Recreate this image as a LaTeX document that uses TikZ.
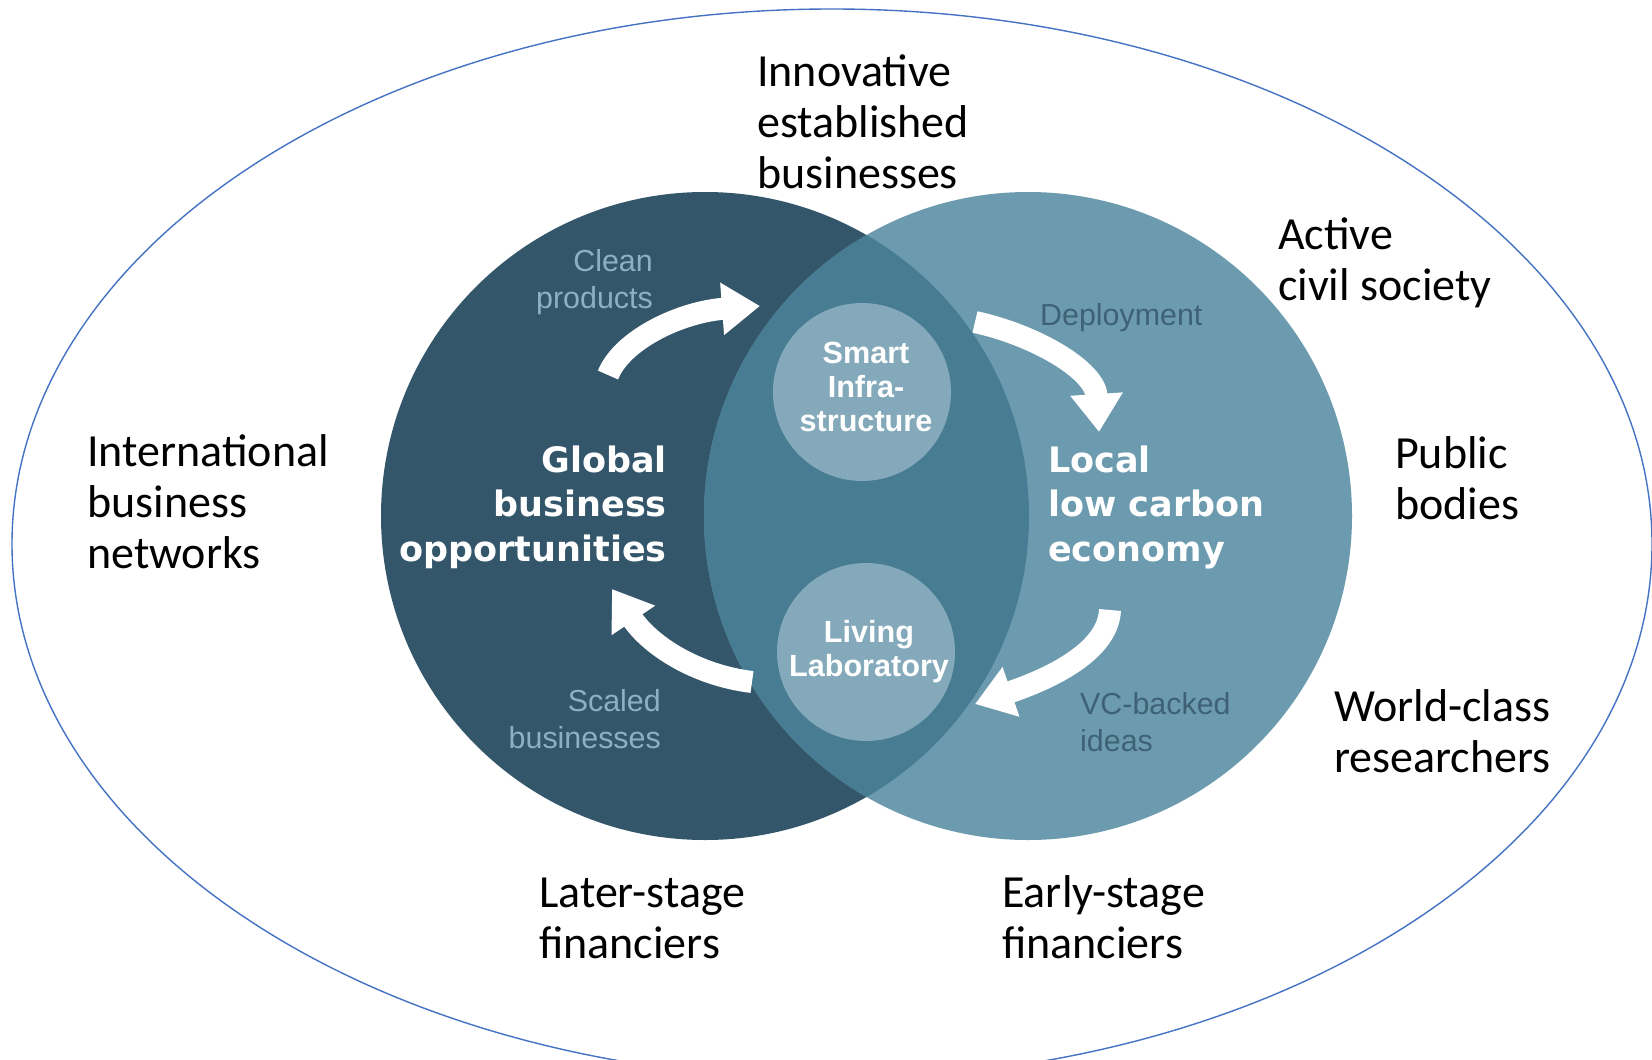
\documentclass[tikz,border=0pt]{standalone}
\usepackage{fontspec}
\setmainfont{Carlito}
\newfontfamily\arialf{Liberation Sans}
\newfontfamily\heavyf{DejaVu Sans}
\usetikzlibrary{arrows.meta}
\definecolor{leftc}{RGB}{52,86,107}
\definecolor{rightc}{RGB}{108,155,175}
\definecolor{midc}{RGB}{71,124,146}
\definecolor{hubc}{RGB}{132,169,186}
\definecolor{ellc}{RGB}{68,114,196}
\definecolor{lighttxt}{RGB}{141,176,195}
\definecolor{darktxt}{RGB}{62,97,117}
\begin{document}
\begin{tikzpicture}[x=1pt,y=-1pt,
  outerlbl/.style={anchor=base west, inner sep=0, align=left, font=\fontsize{46}{50.6}\selectfont},
  heavylbl/.style={inner sep=0, text=white, font=\heavyf\bfseries\fontsize{35}{44.2}\selectfont},
  smalllbl/.style={inner sep=0, font=\arialf\fontsize{30.4}{37}\selectfont},
  hublbl/.style={inner sep=0, text=white, align=center, font=\arialf\bfseries\fontsize{30.6}{34}\selectfont},
  flow/.style={white, line width=22pt, -{Triangle[width=50pt,length=38pt]}}]
\useasboundingbox (0,0) rectangle (1652,1060);
\clip (0,0) rectangle (1652,1060);
\fill[white] (0,0) rectangle (1652,1060);
% outer ellipse
\draw[ellc, line width=1.4pt] (832,544) ellipse [x radius=820pt, y radius=535pt];
% two circles
\node[circle, minimum size=648pt, inner sep=0, fill=leftc] (gl) at (705,516) {};
\node[circle, minimum size=648pt, inner sep=0, fill=rightc] (lc) at (1028,516) {};
\begin{scope}
  \clip (705,516) circle (324pt);
  \fill[midc] (1028,516) circle (324pt);
\end{scope}
% hubs
\node[circle, minimum size=178pt, inner sep=0, fill=hubc] (smart) at (862,392) {};
\node[circle, minimum size=178pt, inner sep=0, fill=hubc] (living) at (866,652) {};
\node[hublbl, anchor=base] (smartt) at (866,431) {Smart\\Infra-\\structure};
\node[hublbl, anchor=base] (livingt) at (869,676) {Living\\Laboratory};
% heavy labels
\node[heavylbl, anchor=base east, align=right] (glt) at (667,561) {Global\\business\\opportunities};
\node[heavylbl, anchor=base west, align=left] (lct) at (1048,561) {Local\\low carbon\\economy};
% small labels
\node[smalllbl, text=lighttxt, anchor=base east, align=right] (clean) at (653,308) {Clean\\products};
\node[smalllbl, text=lighttxt, anchor=base east, align=right] (scaled) at (661,748) {Scaled\\businesses};
\node[smalllbl, text=darktxt, anchor=base west] (deploy) at (1040,325) {Deployment};
\node[smalllbl, text=darktxt, anchor=base west, align=left] (vc) at (1080,751) {VC-backed\\ideas};
% flow arrows
\coordinate (a1s) at (608,375); \coordinate (a1e) at (760,306);
\coordinate (a2s) at (975,322); \coordinate (a2e) at (1099,432);
\coordinate (a3s) at (1110,610); \coordinate (a3e) at (975,704);
\coordinate (a4s) at (752,682); \coordinate (a4e) at (612,589);
\draw[flow] (a1s) .. controls (622,340) and (680,312) .. (a1e);
\draw[flow] (a2s) .. controls (1035,335) and (1095,370) .. (a2e);
\draw[flow] (a3s) .. controls (1108,655) and (1040,682) .. (a3e);
\draw[flow] (a4s) .. controls (695,675) and (650,645) .. (a4e);
% outer labels
\node[outerlbl] (inn) at (757,188) {Innovative\\established\\businesses};
\node[outerlbl] (intl) at (87,568) {International\\business\\networks};
\node[outerlbl] (act) at (1278,300) {Active\\civil society};
\node[outerlbl] (pub) at (1395,519) {Public\\bodies};
\node[outerlbl] (wcr) at (1334,772) {World-class\\researchers};
\node[outerlbl] (later) at (539,958) {Later-stage\\financiers};
\node[outerlbl] (early) at (1002,958) {Early-stage\\financiers};
\end{tikzpicture}
\end{document}
